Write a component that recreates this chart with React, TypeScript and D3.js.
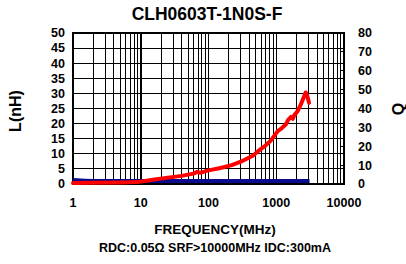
import React, { useRef, useEffect } from "react";
import * as d3 from "d3";

// inductance L (nH) vs frequency (MHz)
const lFreq = [1, 1.5, 2, 5, 10, 30, 100, 300, 1000, 2000, 3100];
const lVal = [1.3, 1.1, 1.0, 1.0, 1.0, 1.0, 1.0, 1.0, 1.0, 1.0, 1.0];

// quality factor Q vs frequency (MHz)
const qFreq = [1, 2, 5, 9, 15, 27, 40, 60, 68, 75, 100, 150, 220, 300, 450, 590, 700, 830, 1050, 1200, 1380, 1500, 1640, 1750, 1850, 2060, 2300, 2450, 2720, 2850, 3050];
const qVal = [0.5, 0.6, 0.8, 1.0, 2.2, 3.5, 4.3, 5.5, 6.4, 5.9, 7.2, 8.5, 10, 11.8, 15, 18.5, 20.5, 23, 28, 29.5, 31.5, 34, 35.5, 34.5, 36.5, 38.5, 42, 44.5, 48.5, 47, 43];

const xTicks = [1, 10, 100, 1000, 10000];
const lTicks = [0, 5, 10, 15, 20, 25, 30, 35, 40, 45, 50];
const qTicks = [0, 10, 20, 30, 40, 50, 60, 70, 80];

const W = 406;
const H = 264;
const font = "Liberation Sans, Arial, sans-serif";

export default function App() {
  const ref = useRef<SVGSVGElement>(null);

  useEffect(() => {
    const svg = d3.select(ref.current);
    svg.selectAll("*").remove();

    const left = 73, right = 344, top = 33, bottom = 184;
    const x = d3.scaleLog().domain([1, 10000]).range([left, right]);
    const yL = d3.scaleLinear().domain([0, 50]).range([bottom, top]);
    const yQ = d3.scaleLinear().domain([0, 80]).range([bottom, top]);

    svg.append("rect").attr("width", W).attr("height", H).attr("fill", "white");

    // grid
    const g = svg.append("g").attr("shape-rendering", "crispEdges");
    const minor: number[] = [];
    for (let d = 1; d < 10000; d *= 10) for (let k = 2; k <= 9; k++) minor.push(d * k);
    g.selectAll("line.minor")
      .data(minor)
      .join("line")
      .attr("x1", (d) => x(d)).attr("x2", (d) => x(d))
      .attr("y1", top).attr("y2", bottom)
      .attr("stroke", "#000").attr("stroke-width", 1);
    g.selectAll("line.major")
      .data(xTicks)
      .join("line")
      .attr("x1", (d) => x(d)).attr("x2", (d) => x(d))
      .attr("y1", top).attr("y2", bottom)
      .attr("stroke", "#000").attr("stroke-width", 1.5);
    g.selectAll("line.h")
      .data(lTicks)
      .join("line")
      .attr("x1", left).attr("x2", right)
      .attr("y1", (d) => yL(d)).attr("y2", (d) => yL(d))
      .attr("stroke", "#000").attr("stroke-width", 1);
    g.append("rect")
      .attr("x", left).attr("y", top)
      .attr("width", right - left).attr("height", bottom - top)
      .attr("fill", "none").attr("stroke", "#000").attr("stroke-width", 1.5);
    // axis ticks (inside)
    g.selectAll("line.lt")
      .data(lTicks)
      .join("line")
      .attr("x1", left).attr("x2", left + 4)
      .attr("y1", (d) => yL(d)).attr("y2", (d) => yL(d))
      .attr("stroke", "#000").attr("stroke-width", 1);
    g.selectAll("line.qt")
      .data(qTicks)
      .join("line")
      .attr("x1", right - 4).attr("x2", right)
      .attr("y1", (d) => yQ(d)).attr("y2", (d) => yQ(d))
      .attr("stroke", "#000").attr("stroke-width", 1);

    // series
    const lLine = d3.line<number>().x((d, i) => x(lFreq[i])).y((d) => yL(d));
    svg.append("path").datum(lVal).attr("d", lLine)
      .attr("fill", "none").attr("stroke", "#0a0a8c").attr("stroke-width", 4);
    const qLine = d3.line<number>().x((d, i) => x(qFreq[i])).y((d) => yQ(d));
    svg.append("path").datum(qVal).attr("d", qLine)
      .attr("fill", "none").attr("stroke", "#ff0000").attr("stroke-width", 4)
      .attr("stroke-linejoin", "round").attr("stroke-linecap", "round");

    const txt = svg.append("g").attr("font-family", font).attr("font-weight", "bold").attr("fill", "#000");

    txt.selectAll("text.l")
      .data(lTicks)
      .join("text")
      .attr("x", left - 8).attr("y", (d) => yL(d)).attr("dy", "0.35em")
      .attr("text-anchor", "end").attr("font-size", 12.5)
      .text((d) => d);
    txt.selectAll("text.q")
      .data(qTicks)
      .join("text")
      .attr("x", right + 14).attr("y", (d) => yQ(d)).attr("dy", "0.35em")
      .attr("text-anchor", "start").attr("font-size", 12.5)
      .text((d) => d);
    txt.selectAll("text.x")
      .data(xTicks)
      .join("text")
      .attr("x", (d) => x(d)).attr("y", 207)
      .attr("text-anchor", "middle").attr("font-size", 12.5)
      .text((d) => d);

    txt.append("text").attr("x", 207).attr("y", 20)
      .attr("text-anchor", "middle").attr("font-size", 17.5)
      .text("CLH0603T-1N0S-F");
    txt.append("text")
      .attr("transform", "translate(21,111) rotate(-90)")
      .attr("text-anchor", "middle").attr("font-size", 16)
      .text("L(nH)");
    txt.append("text")
      .attr("transform", "translate(404,109) rotate(-90)")
      .attr("text-anchor", "middle").attr("font-size", 16)
      .text("Q");
    txt.append("text").attr("x", 215).attr("y", 234)
      .attr("text-anchor", "middle").attr("font-size", 13.5)
      .text("FREQUENCY(MHz)");
    txt.append("text").attr("x", 215).attr("y", 252)
      .attr("text-anchor", "middle").attr("font-size", 12.5)
      .text("RDC:0.05Ω SRF>10000MHz IDC:300mA");
  }, []);

  return (
    <svg
      ref={ref}
      width={W}
      height={H}
      style={{ position: "absolute", left: 0, top: 0 }}
    />
  );
}
